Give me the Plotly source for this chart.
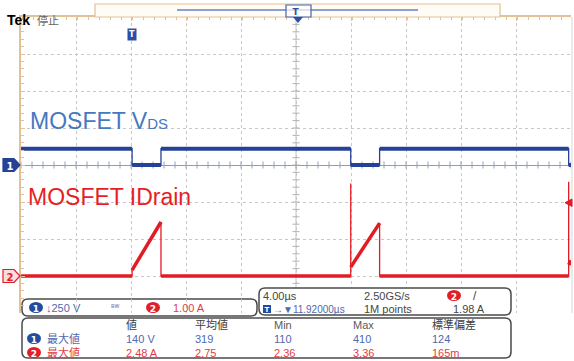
import plotly.graph_objects as go
import numpy as np

W, H = 574, 361

# ---------------- data ----------------
# screen time window (µs), trigger at t = 0, 4 µs/div
t_left, t_right = -8.08, 31.92
t_center = 11.92
time_per_div = 4.0
# vertical screen in divisions
y_bot, y_top = -4, 4
ch1_scale = 250.0      # V/div
ch2_scale = 1.0        # A/div
ch1_offset_div = 0.0
ch2_offset_div = -3.0
trig_level = 1.98      # A

ch1_t = [-8.08, 0.0, 0.0, 2.1, 2.1, 15.9, 15.9, 18.0, 18.0, 31.75, 31.75, 31.92]
ch1_v = [110, 110, 0, 0, 110, 110, 0, 0, 110, 110, 0, 0]

ch2_t = [-8.08, 0.0, 0.0, 2.1, 2.1, 15.9, 15.9, 15.9, 18.0, 18.0, 31.75, 31.75, 31.75, 31.92]
ch2_a = [0, 0, 0.16, 1.46, 0, 0, 2.5, 0.24, 1.43, 0, 0, 2.55, 0.3, 0.42]

meas_headers = ["値", "平均値", "Min", "Max", "標準偏差"]
meas_label = "最大値"
ch1_meas = ["140 V", "319", "110", "410", "124"]
ch2_meas = ["2.48 A", "2.75", "2.36", "3.36", "165m"]

ch1_setting = "↓250 V"
ch2_setting = "1.00 A"
timebase_label = "4.00µs"
sample_rate = "2.50GS/s"
record_len = "1M points"
delay_label = "→▼11.92000µs"
trig_label = "1.98 A"

# ---------------- helpers ----------------
def PX(x):
    return x / W

def PY(y):
    return 1 - y / H

def split_vertical(ts, ys):
    """Copy with breaks at vertical edges (so flat/ramp parts can be drawn thick)."""
    xo, yo = [ts[0]], [ys[0]]
    for i in range(1, len(ts)):
        if ts[i] == ts[i - 1]:
            xo.append(None); yo.append(None)
        xo.append(ts[i]); yo.append(ys[i])
    return xo, yo

def rrect(x0, y0, x1, y1, r):
    rx, ry = r / W, r / H
    a, b, c, d = PX(x0), PY(y0), PX(x1), PY(y1)
    return (f"M {a+rx},{b} L {c-rx},{b} Q {c},{b} {c},{b-ry} L {c},{d+ry} "
            f"Q {c},{d} {c-rx},{d} L {a+rx},{d} Q {a},{d} {a},{d+ry} L {a},{b-ry} "
            f"Q {a},{b} {a+rx},{b} Z")

ch1_y = [ch1_offset_div + v / ch1_scale for v in ch1_v]
ch2_y = [ch2_offset_div + a / ch2_scale for a in ch2_a]

BLUE = "rgb(38,66,150)"
RED = "rgb(226,28,36)"
TAN = "rgb(226,192,152)"
TXT_BLUE = "rgb(80,105,175)"
TXT_RED = "rgb(228,60,70)"
DARK = "rgb(70,70,70)"
FONT = "Liberation Sans, Noto Sans CJK JP, sans-serif"

fig = go.Figure()

# graticule ticks along centre lines
minor_x = np.arange(t_left, t_right + 1e-6, time_per_div / 5)
minor_y = np.arange(y_bot, y_top + 1e-6, 0.2)
fig.add_trace(go.Scatter(x=minor_x, y=[0] * len(minor_x), mode="markers",
                         marker=dict(symbol="line-ns", size=5, line=dict(width=1, color="rgb(150,160,190)")),
                         hoverinfo="skip", showlegend=False))
fig.add_trace(go.Scatter(x=[t_center] * len(minor_y), y=minor_y, mode="markers",
                         marker=dict(symbol="line-ew", size=5, line=dict(width=1, color="rgb(180,180,180)")),
                         hoverinfo="skip", showlegend=False))

# waveforms: thin full trace + thick non-vertical segments
for ts, ys, col, wthick in [(ch1_t, ch1_y, BLUE, 4), (ch2_t, ch2_y, RED, 3.5)]:
    fig.add_trace(go.Scatter(x=ts, y=ys, mode="lines", line=dict(color=col, width=1.3),
                             hoverinfo="skip", showlegend=False))
    xs, yss = split_vertical(ts, ys)
    fig.add_trace(go.Scatter(x=xs, y=yss, mode="lines", line=dict(color=col, width=wthick),
                             connectgaps=False, hoverinfo="skip", showlegend=False))

xdom = [PX(21), PX(571)]
ydom = [PY(313), PY(17)]

fig.update_layout(
    width=W, height=H, margin=dict(l=0, r=0, t=0, b=0),
    paper_bgcolor="white", plot_bgcolor="white",
    xaxis=dict(domain=xdom, range=[t_left, t_right], tick0=t_left, dtick=time_per_div,
               showgrid=True, gridcolor="rgb(200,200,200)", griddash="dot", gridwidth=1,
               zeroline=False, side="top", showline=True, linecolor=TAN, linewidth=1.5,
               ticks="inside", ticklen=4, tickcolor=TAN, showticklabels=False,
               minor=dict(dtick=time_per_div / 5, ticks="inside", ticklen=3, tickcolor=TAN, showgrid=False)),
    yaxis=dict(domain=ydom, range=[y_bot, y_top], tick0=0, dtick=1,
               showgrid=True, gridcolor="rgb(200,200,200)", griddash="dot", gridwidth=1,
               zeroline=True, zerolinecolor="rgb(140,155,195)", zerolinewidth=1,
               side="left", showline=True, linecolor=TAN, linewidth=1.5,
               ticks="inside", ticklen=4, tickcolor=TAN, showticklabels=False,
               minor=dict(dtick=0.2, ticks="inside", ticklen=3, tickcolor=TAN, showgrid=False)),
)

shapes = []
ann = []

# centre vertical line
shapes.append(dict(type="line", xref="x", yref="y", x0=t_center, x1=t_center, y0=y_bot, y1=y_top,
                   line=dict(color="rgb(195,195,195)", width=1), layer="below"))
# right border
shapes.append(dict(type="line", xref="paper", yref="paper", x0=PX(572), x1=PX(572), y0=PY(313), y1=PY(17),
                   line=dict(color="rgb(215,215,215)", width=1)))

# record bar on top
shapes.append(dict(type="rect", xref="paper", yref="paper", x0=PX(95), x1=PX(500), y0=PY(17), y1=PY(4),
                   line=dict(color=TAN, width=1.2), fillcolor="rgb(255,252,246)"))
shapes.append(dict(type="line", xref="paper", yref="paper", x0=PX(177), x1=PX(418), y0=PY(10), y1=PY(10),
                   line=dict(color="rgb(100,130,200)", width=1.5)))
shapes.append(dict(type="rect", xref="paper", yref="paper", x0=PX(286), x1=PX(311), y0=PY(17), y1=PY(5),
                   line=dict(color="rgb(70,100,170)", width=1.2), fillcolor="rgba(255,255,255,0.7)",
                   label=dict(text="<b>T</b>  ", font=dict(size=9, color="rgb(50,80,160)", family="DejaVu Sans"),
                              textposition="middle center")))
# expansion point triangle
shapes.append(dict(type="path", xref="paper", yref="paper",
                   path=f"M {PX(293)},{PY(17)} L {PX(303)},{PY(17)} L {PX(298)},{PY(23)} Z",
                   fillcolor="rgb(40,80,165)", line=dict(width=0)))

# header text
ann.append(dict(xref="paper", yref="paper", x=PX(5), y=PY(10), xanchor="left", text="<b>Tek</b>",
                showarrow=False, font=dict(size=14, color="black", family="Liberation Sans")))
ann.append(dict(xref="paper", yref="paper", x=PX(35), y=PY(10), xanchor="left", text="停止",
                showarrow=False, font=dict(size=11, color="rgb(100,100,100)", family="Noto Sans CJK JP")))

# trigger position marker
ann.append(dict(xref="x", yref="paper", x=0, y=PY(28), text="<b>T</b>", showarrow=False,
                bgcolor="rgb(40,80,165)", borderpad=1,
                font=dict(size=8, color="white", family="DejaVu Sans")))

# channel ground markers
hh = 6.5 / 37.0
for off, fill, border, tcol, label in [(ch1_offset_div, "rgb(38,66,150)", "rgb(38,66,150)", "white", "1"),
                                       (ch2_offset_div, "rgb(252,220,220)", RED, RED, "2")]:
    shapes.append(dict(type="path", xref="paper", yref="y",
                       path=(f"M {PX(3)},{off+hh} L {PX(14)},{off+hh} L {PX(20)},{off} "
                             f"L {PX(14)},{off-hh} L {PX(3)},{off-hh} Z"),
                       fillcolor=fill, line=dict(color=border, width=1.2),
                       label=dict(text=f"<b>{label}</b> ", font=dict(size=10, color=tcol, family="DejaVu Sans"),
                                  textposition="middle center")))

# trigger level marker (right edge)
tl = ch2_offset_div + trig_level / ch2_scale
shapes.append(dict(type="path", xref="paper", yref="y",
                   path=f"M {PX(565)},{tl} L {PX(572)},{tl+0.1} L {PX(572)},{tl-0.1} Z",
                   fillcolor=RED, line=dict(color=RED, width=1)))

# waveform labels
ann.append(dict(xref="paper", yref="paper", x=PX(28), y=PY(121), xanchor="left", yanchor="middle",
                text="MOSFET V<span style='font-size:15px'>DS</span>", showarrow=False,
                font=dict(size=23, color="rgb(70,120,192)", family="Liberation Sans")))
ann.append(dict(xref="paper", yref="paper", x=PX(26), y=PY(197), xanchor="left", yanchor="middle",
                text="MOSFET IDrain", showarrow=False,
                font=dict(size=23, color="rgb(232,30,36)", family="Liberation Sans")))

# ---------- info boxes ----------
BOXLINE = dict(color="rgb(75,75,75)", width=1.5)
shapes.append(dict(type="path", xref="paper", yref="paper", path=rrect(22, 299, 257, 316, 6),
                   fillcolor="white", line=BOXLINE, layer="below"))
shapes.append(dict(type="path", xref="paper", yref="paper", path=rrect(259, 288, 511, 315, 6),
                   fillcolor="white", line=BOXLINE))
shapes.append(dict(type="path", xref="paper", yref="paper", path=rrect(22, 318, 511, 358, 6),
                   fillcolor="white", line=BOXLINE))

def badge(cx, cy, label, col):
    shapes.append(dict(type="circle", xref="paper", yref="paper", x0=PX(cx - 7), x1=PX(cx + 7),
                       y0=PY(cy + 5.5), y1=PY(cy - 5.5), fillcolor=col, line=dict(width=0),
                       label=dict(text=f"<b>{label}</b>", font=dict(size=9, color="white", family="DejaVu Sans"),
                                  textposition="middle center")))

def txt(x, y, s, col, size=11, fam=FONT, anchor="left"):
    ann.append(dict(xref="paper", yref="paper", x=PX(x), y=PY(y), xanchor=anchor, yanchor="middle",
                    text=s, showarrow=False, borderpad=0,
                    font=dict(size=size, color=col, family=fam)))

BADGE_BLUE = "rgb(35,75,160)"
BADGE_RED = "rgb(226,30,40)"

# box 1
badge(36, 307.5, "1", BADGE_BLUE)
txt(45, 307.5, ch1_setting, TXT_BLUE, 11)
txt(110, 306, "ᴮᵂ", TXT_BLUE, 8, "Noto Sans")
badge(153, 307.5, "2", BADGE_RED)
txt(172, 307.5, ch2_setting, TXT_RED, 11)

# box 2
txt(262, 295.5, timebase_label, DARK, 11)
txt(363, 295.5, sample_rate, DARK, 11)
badge(454, 295.5, "2", BADGE_RED)
txt(472, 295.5, "/", DARK, 12)
shapes.append(dict(type="rect", xref="paper", yref="paper", x0=PX(263), x1=PX(271), y0=PY(313), y1=PY(305),
                   fillcolor=BADGE_BLUE, line=dict(width=0),
                   label=dict(text="<b>T</b>", font=dict(size=7, color="white", family="DejaVu Sans"),
                              textposition="middle center")))
txt(272, 309, delay_label, TXT_BLUE, 10)
txt(363, 309, record_len, DARK, 11)
txt(452, 309, trig_label, DARK, 11)

# box 3: measurements
col_x = [125, 194, 273, 352, 431]
for i, h in enumerate(meas_headers):
    cjk = any(ord(c) > 0x2E80 for c in h)
    txt(col_x[i], 324.5, h, "rgb(60,60,60)" if cjk else "rgb(90,90,90)", 11)
badge(34, 338.5, "1", BADGE_BLUE)
txt(46, 338.5, meas_label, TXT_BLUE, 11)
badge(34, 352.5, "2", BADGE_RED)
txt(46, 352.5, meas_label, TXT_RED, 11)
for i, v in enumerate(ch1_meas):
    txt(col_x[i], 338.5, v, TXT_BLUE, 11)
for i, v in enumerate(ch2_meas):
    txt(col_x[i], 352.5, v, TXT_RED, 11)

fig.update_layout(shapes=shapes, annotations=ann)
fig.write_html("out.html")
